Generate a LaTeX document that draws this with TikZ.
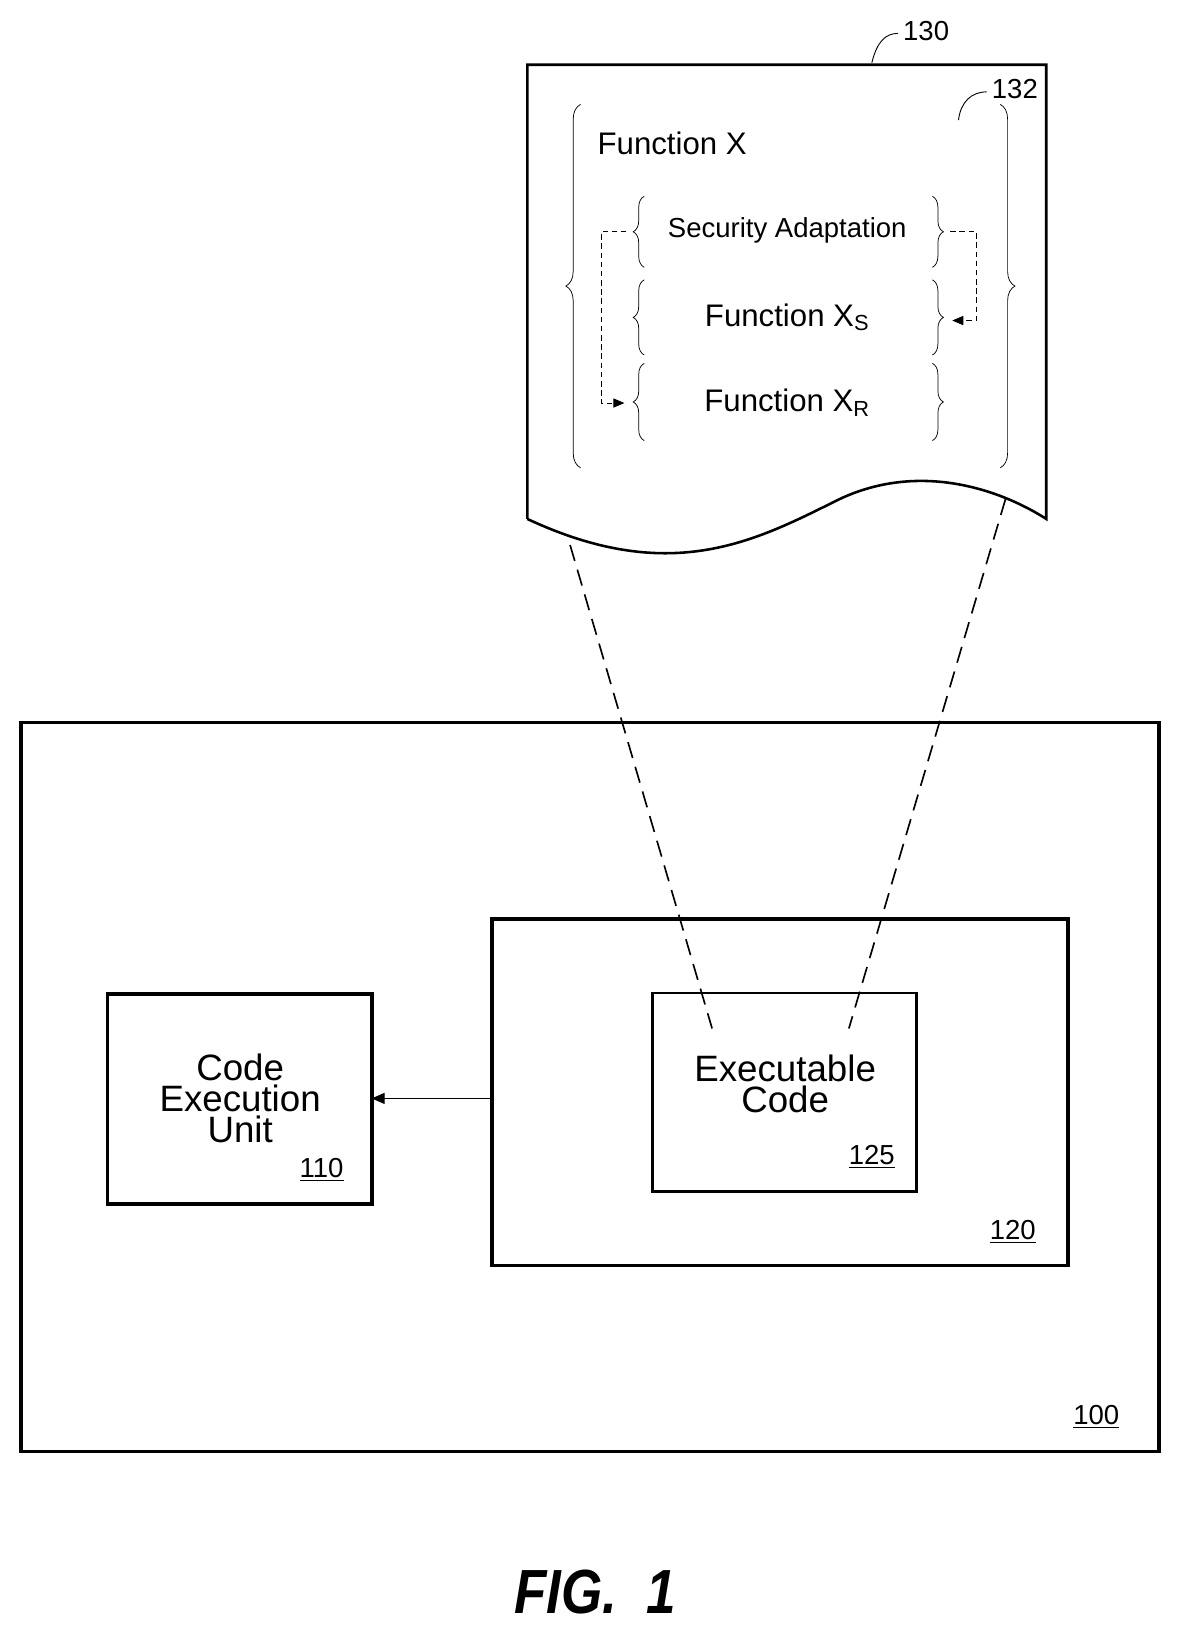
\documentclass[tikz,border=0pt]{standalone}
\usepackage{fontspec}
\setmainfont{Liberation Sans}
\usetikzlibrary{positioning,decorations.pathreplacing,arrows.meta}
\begin{document}
\begin{tikzpicture}[x=0.02cm,y=-0.02cm,
  box/.style={draw, line width=2pt},
  lbl/.style={font=\fontsize{15}{15}\selectfont, inner sep=0pt},
  fn/.style={font=\fontsize{17}{17}\selectfont, inner sep=0pt},
  brc/.style={decorate, decoration={brace, amplitude=8pt}, line width=0.4pt},
  sbrc/.style={decorate, decoration={brace, amplitude=6pt}, line width=0.4pt},
  zoomline/.style={line width=0.9pt, dash pattern=on 9pt off 5pt},
  flowline/.style={line width=0.4pt, dash pattern=on 3pt off 2pt}]
\useasboundingbox (0,0) rectangle (1128,1564);

% system
\draw[box] (20,692) rectangle (1110,1390);
\node[lbl] at (1050,1357) {\underline{100}};
\draw[box] (103,952) rectangle (356,1153);
\node[font=\fontsize{20}{17}\selectfont, align=center] (ceu) at (230,1052) {Code\\Execution\\Unit};
\node[lbl] at (308,1120) {\underline{110}};
\draw[box] (471,880) rectangle (1023,1212);
\node[lbl] at (970,1180) {\underline{120}};
\draw[box, line width=1.5pt] (625,951) rectangle (878,1141);
\node[font=\fontsize{20}{17}\selectfont, align=center] (exc) at (752,1038) {Executable\\Code};
\node[lbl] at (835,1108) {\underline{125}};
\coordinate (m) at (471,1052);
\coordinate (u) at (356,1052);
\draw[-{Triangle[length=7pt,width=6pt]}, line width=0.5pt] (m) -- (u);

% document 130
\draw[line width=1.4pt] (505,497) -- (505,62) -- (1002,62) -- (1002,497)
  .. controls (960,470) and (880,440) .. (800,480)
  .. controls (720,520) and (640,560) .. (505,497);
\node[lbl] (l130) at (887,30) {130};
\draw[line width=0.5pt] (835,60) .. controls (840,40) and (848,32) .. (860,32);
\node[lbl] (l132) at (972,85) {132};
\draw[line width=0.5pt] (918,115) .. controls (920,98) and (930,88) .. (945,88);

\draw[zoomline] (546,522) -- (682,985);
\draw[zoomline] (963,478) -- (813,985);

\draw[brc] (556,448) -- (556,100);
\draw[brc] (958,100) -- (958,448);
\node[fn, anchor=west] (fx) at (572,137) {Function X};

\draw[sbrc] (617,256) -- (617,188);
\draw[sbrc] (617,340) -- (617,268);
\draw[sbrc] (617,422) -- (617,348);
\draw[sbrc] (893,188) -- (893,256);
\draw[sbrc] (893,268) -- (893,340);
\draw[sbrc] (893,348) -- (893,422);
\node[font=\fontsize{15}{15}\selectfont] (sa) at (754,221) {Security Adaptation};
\node[fn] (fxs) at (754,304) {Function X\textsubscript{S}};
\node[fn] (fxr) at (754,386) {Function X\textsubscript{R}};

\draw[flowline, -{Triangle[length=6pt,width=5pt]}] (600,222) -- (576,222) -- (576,386) -- (598,386);
\draw[flowline, -{Triangle[length=6pt,width=5pt]}] (910,222) -- (935,222) -- (935,307) -- (912,307);

\node[font=\fontsize{34}{34}\selectfont\bfseries\itshape, xscale=0.85] (fig) at (570,1525) {FIG.\ \ 1};
\end{tikzpicture}
\end{document}
